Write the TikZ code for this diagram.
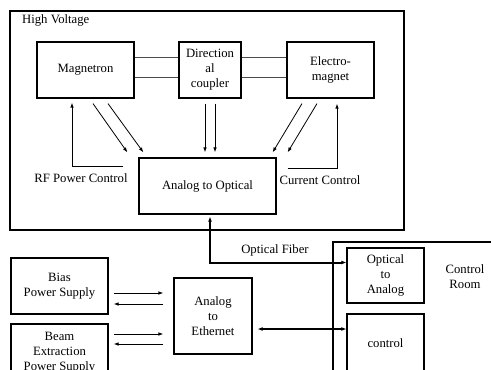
\documentclass[tikz,border=0pt]{standalone}
\usepackage{fontspec}
\setmainfont{Liberation Serif}
\newfontfamily\tnr{Liberation Serif}
\usetikzlibrary{arrows.meta,calc}
\begin{document}
\begin{tikzpicture}[x=1pt,y=-1pt,
  every node/.style={font=\tnr\fontsize{12.7}{15}\selectfont, align=center, inner sep=0pt},
  box/.style={draw, line width=1.2pt, rectangle},
  arr/.style={line width=0.8pt, -{Latex[length=5pt,width=3.6pt]}},
  twin/.style={line width=0.9pt, black!70},
  fiber/.style={line width=2pt, {Latex[length=5pt,width=4pt]}-{Latex[length=5pt,width=4pt]}}]
\useasboundingbox (0,0) rectangle (491,370);
\clip (0,0) rectangle (491,370);
\fill[white] (0,0) rectangle (491,370);
% High voltage frame
\draw[line width=1.6pt] (10,11) rectangle (404,230);
\node[anchor=west] (hv) at (22,20) {High Voltage};
% boxes
\node[box, minimum width=97pt, minimum height=56pt] (mag) at (85.5,70) {Magnetron};
\node[box, minimum width=62pt, minimum height=56pt] (coup) at (210,70) {Direction\\al\\coupler};
\node[box, minimum width=87pt, minimum height=56pt] (em) at (330.5,70) {Electro-\\magnet};
\node[box, minimum width=137pt, minimum height=56pt] (a2o) at (207.5,186) {Analog to Optical};
% parallel lines
\draw[twin] ($(mag.east)+(0,-13)$) -- ($(coup.west)+(0,-13)$);
\draw[twin] ($(mag.east)+(0,7)$) -- ($(coup.west)+(0,7)$);
\draw[twin] ($(coup.east)+(0,-13)$) -- ($(em.west)+(0,-13)$);
\draw[twin] ($(coup.east)+(0,7)$) -- ($(em.west)+(0,7)$);
% signal arrows
\draw[arr] ($(mag.south)+(7.5,5)$) -- ($(a2o.north west)+(-11,-5)$);
\draw[arr] ($(mag.south)+(22.5,5)$) -- ($(a2o.north west)+(5,-5)$);
\draw[arr] ($(coup.south)+(-5,5)$) -- ($(coup.south |- a2o.north)+(-5,-5)$);
\draw[arr] ($(coup.south)+(5,5)$) -- ($(coup.south |- a2o.north)+(5,-5)$);
\draw[arr] ($(em.south)+(-28.5,5)$) -- ($(a2o.north east)+(-4,-5)$);
\draw[arr] ($(em.south)+(-13.5,5)$) -- ($(a2o.north east)+(11,-5)$);
% control loops
\draw[arr] ($(a2o.west)+(-15,-20)$) -| ($(mag.south)+(-13.5,4)$);
\node (rf) at (81,178) {RF Power Control};
\draw[arr] ($(a2o.east)+(11,-18)$) -| ($(em.south)+(6.5,5)$);
\node (cc) at (320,180) {Current Control};
% control room
\draw[line width=1.2pt] (333,242) rectangle (520,400);
\node (cr) at (465,277) {Control\\Room};
\node[box, minimum width=77pt, minimum height=55pt] (o2a) at (385.5,275.5) {Optical\\to\\Analog};
\node[box, minimum width=77pt, minimum height=58pt] (ctrl) at (385.5,343) {control};
% lower left
\node[box, minimum width=97pt, minimum height=56pt] (bias) at (59.5,286) {Bias\\Power Supply};
\node[box, minimum width=97pt, minimum height=58pt] (beam) at (59.5,353) {Beam\\Extraction\\Power Supply};
\node[box, minimum width=78pt, minimum height=76pt] (a2e) at (213,316) {Analog\\to\\Ethernet};
% fiber
\draw[fiber] ($(a2o.south)+(2.5,2)$) |- ($(o2a.west)+(0,-13)$);
\node (of) at (275,250) {Optical Fiber};
\draw[fiber] ($(a2e.east)+(5,13)$) -- ($(ctrl.west |- a2e.east)+(0,13)$);
% supply arrows
\draw[arr] ($(bias.east)+(5,7)$) -- ($(a2e.west |- bias.east)+(-10,7)$);
\draw[arr] ($(a2e.west |- bias.east)+(-10,18)$) -- ($(bias.east)+(5,18)$);
\draw[arr] ($(beam.east)+(5,-19)$) -- ($(a2e.west |- beam.east)+(-10,-19)$);
\draw[arr] ($(a2e.west |- beam.east)+(-10,-9)$) -- ($(beam.east)+(5,-9)$);
\end{tikzpicture}
\end{document}
